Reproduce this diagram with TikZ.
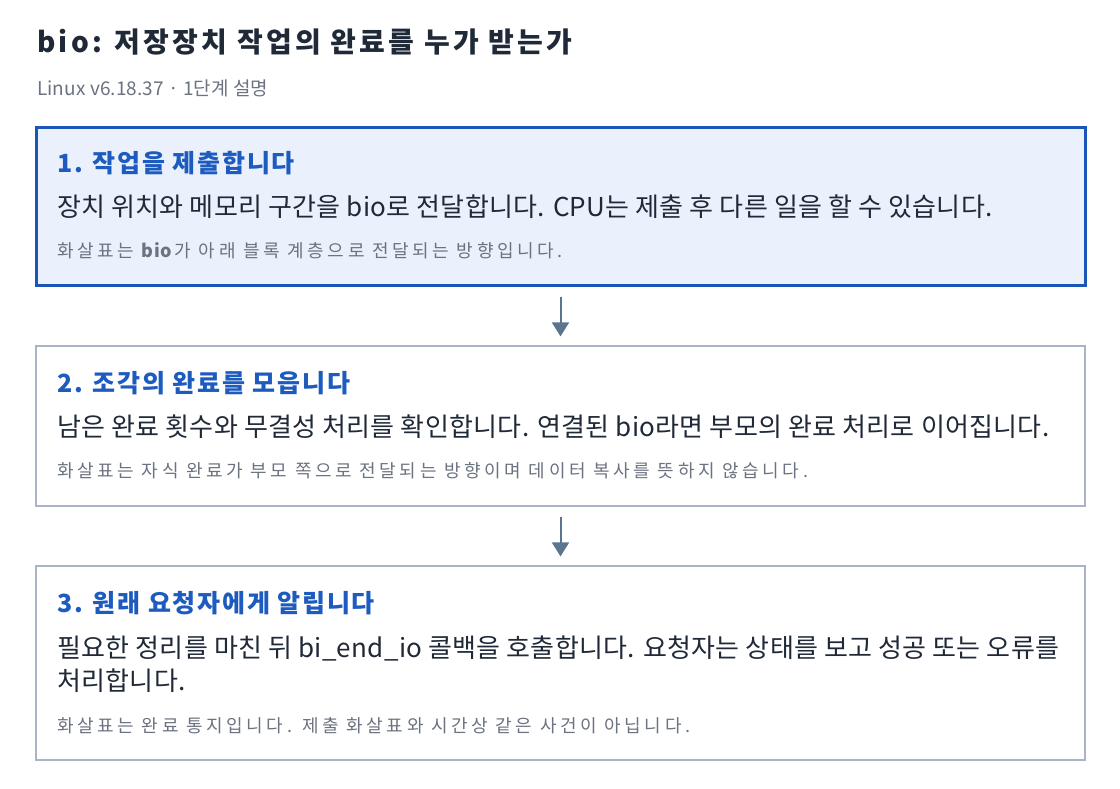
\documentclass[tikz,border=0pt]{standalone}
\usepackage{fontspec}
\setmainfont{Noto Sans CJK KR}
\usetikzlibrary{arrows.meta}
\definecolor{titlec}{HTML}{1F2937}
\definecolor{subc}{HTML}{6B7280}
\definecolor{headc}{HTML}{1D5BBF}
\definecolor{bodyc}{HTML}{1F2937}
\definecolor{notec}{HTML}{6B7280}
\definecolor{activefill}{HTML}{EAF1FC}
\definecolor{activeborder}{HTML}{1A56B8}
\definecolor{plainborder}{HTML}{A9B5C6}
\definecolor{arrowc}{HTML}{5B7590}
\tikzset{
  stagebox/.style={rectangle, inner sep=0pt, minimum width=1049pt, draw=plainborder, line width=1.2pt, fill=white},
  activebox/.style={stagebox, draw=activeborder, fill=activefill, line width=3pt},
  txt/.style={anchor=base west, inner sep=0pt},
  titletxt/.style={txt, text=titlec, font=\fontsize{28}{32}\selectfont\bfseries\addfontfeature{LetterSpace=11.6}},
  subtxt/.style={txt, text=subc, font=\fontsize{19}{22}\selectfont\addfontfeature{LetterSpace=0.5}},
  headtxt/.style={txt, text=headc, font=\fontsize{25}{28}\selectfont\bfseries\addfontfeature{LetterSpace=7}},
  bodytxt/.style={txt, text=bodyc, font=\fontsize{26}{34}\selectfont\addfontfeature{LetterSpace=1.1}},
  notetxt/.style={txt, text=notec, font=\fontsize{18}{22}\selectfont\addfontfeature{LetterSpace=20}},
  flow/.style={draw=arrowc, line width=2pt, -{Triangle[length=14pt,width=17pt]}}
}
\begin{document}
\begin{tikzpicture}[x=1pt,y=-1pt]
\useasboundingbox (0,0) rectangle (1120,788);
\node[titletxt] (title) at (37,52) {bio: 저장장치 작업의 완료를 누가 받는가};
\node[subtxt] (sub) at (37,95) {Linux v6.18.37 · 1단계 설명};

\node[activebox, minimum height=158pt] (b1) at (560.5,206) {};
\node[headtxt] (h1) at (57,172.5) {1. 작업을 제출합니다};
\node[bodytxt] (t1) at (57,216) {장치 위치와 메모리 구간을 bio로 전달합니다. CPU는 제출 후 다른 일을 할 수 있습니다.};
\node[notetxt] (n1) at (57,257.5) {화살표는 {\bfseries\addfontfeature{LetterSpace=2}bio}\hspace{3pt}가 아래 블록 계층으로 전달되는 방향입니다.};

\node[stagebox, minimum height=160pt] (b2) at (560.5,426) {};
\node[headtxt] (h2) at (57,392.5) {2. 조각의 완료를 모읍니다};
\node[bodytxt] (t2) at (57,436) {남은 완료 횟수와 무결성 처리를 확인합니다. 연결된 bio라면 부모의 완료 처리로 이어집니다.};
\node[notetxt] (n2) at (57,477.5) {화살표는 자식 완료가 부모 쪽으로 전달되는 방향이며 데이터 복사를 뜻하지 않습니다.};

\node[stagebox, minimum height=194pt] (b3) at (560.5,663) {};
\node[headtxt] (h3) at (57,612.5) {3. 원래 요청자에게 알립니다};
\node[bodytxt] (t3a) at (57,657) {필요한 정리를 마친 뒤 bi\_end\_io 콜백을 호출합니다. 요청자는 상태를 보고 성공 또는 오류를};
\node[bodytxt] (t3b) at (57,690) {처리합니다.};
\node[notetxt] (n3) at (57,732) {화살표는 완료 통지입니다. 제출 화살표와 시간상 같은 사건이 아닙니다.};

\draw[flow] ([yshift=-10pt]b1.south) -- ([yshift=9pt]b2.north);
\draw[flow] ([yshift=-10pt]b2.south) -- ([yshift=9pt]b3.north);
\end{tikzpicture}
\end{document}
